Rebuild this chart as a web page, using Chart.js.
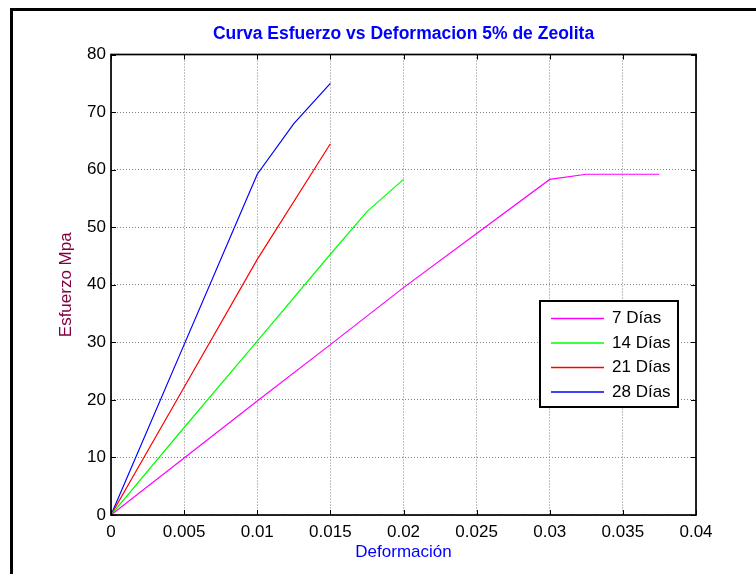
<!DOCTYPE html>
<html>
<head>
<meta charset="utf-8">
<script src="https://cdn.jsdelivr.net/npm/chart.js@4/dist/chart.umd.min.js"></script>
<style>
  html, body { margin: 0; padding: 0; background: #fff; }
  #wrap { width: 756px; height: 574px; position: relative; }
</style>
</head>
<body>
<div id="wrap"><canvas id="curva"></canvas></div>
<script>
// Curvas esfuerzo-deformación por edad de curado
const dias7X = [0, 0.005, 0.01, 0.015, 0.02, 0.025, 0.03, 0.0325, 0.0375];
const dias7Y = [0, 9.9, 19.8, 29.6, 39.5, 48.9, 58.3, 59.2, 59.2];

const dias14X = [0, 0.005, 0.01, 0.015, 0.0175, 0.02];
const dias14Y = [0, 15.2, 30.2, 45.3, 52.7, 58.3];

const dias21X = [0, 0.005, 0.01, 0.015];
const dias21Y = [0, 22.2, 44.4, 64.5];

const dias28X = [0, 0.005, 0.01, 0.0125, 0.015];
const dias28Y = [0, 29.6, 59.2, 68.0, 75.0];

const nombres = ['7 Días', '14 Días', '21 Días', '28 Días'];
const colores = ['#ff00ff', '#00ff00', '#ff0000', '#0000ff'];

const xTicks = [0, 0.005, 0.01, 0.015, 0.02, 0.025, 0.03, 0.035, 0.04];
const xTickLabels = ['0', '0.005', '0.01', '0.015', '0.02', '0.025', '0.03', '0.035', '0.04'];
const yTicks = [0, 10, 20, 30, 40, 50, 60, 70, 80];

const FUENTE = 'Arial, "Liberation Sans", sans-serif';

function puntos(xs, ys) {
    return xs.map((x, i) => ({ x: x, y: ys[i] }));
}

const series = [
    puntos(dias7X, dias7Y),
    puntos(dias14X, dias14Y),
    puntos(dias21X, dias21Y),
    puntos(dias28X, dias28Y)
];

// marco exterior, caja de ejes con marcas hacia dentro y leyenda
const marcoPlugin = {
    id: 'marco',
    beforeDraw(chart) {
        const ctx = chart.ctx;
        ctx.save();
        ctx.fillStyle = '#fff';
        ctx.fillRect(0, 0, chart.width, chart.height);
        ctx.fillStyle = '#000';
        ctx.fillRect(10, 8, chart.width - 10, 3);
        ctx.fillRect(10, 8, 3, chart.height - 8);
        ctx.restore();
    },
    afterDatasetsDraw(chart) {
        const ctx = chart.ctx;
        const a = chart.chartArea;
        const sx = chart.scales.x;
        const sy = chart.scales.y;
        ctx.save();
        ctx.strokeStyle = '#000';
        ctx.lineWidth = 1;
        ctx.beginPath();
        sx.ticks.forEach(t => {
            const px = Math.round(sx.getPixelForValue(t.value)) + 0.5;
            ctx.moveTo(px, a.bottom); ctx.lineTo(px, a.bottom - 5);
            ctx.moveTo(px, a.top); ctx.lineTo(px, a.top + 5);
        });
        sy.ticks.forEach(t => {
            const py = Math.round(sy.getPixelForValue(t.value)) + 0.5;
            ctx.moveTo(a.left, py); ctx.lineTo(a.left + 5, py);
            ctx.moveTo(a.right, py); ctx.lineTo(a.right - 5, py);
        });
        ctx.stroke();
        ctx.lineWidth = 1.7;
        ctx.strokeRect(a.left, a.top, a.right - a.left, a.bottom - a.top);

        // leyenda
        const lx = 540, ly = 301, lw = 138, lh = 106;
        ctx.fillStyle = '#fff';
        ctx.fillRect(lx, ly, lw, lh);
        ctx.lineWidth = 2;
        ctx.strokeStyle = '#000';
        ctx.strokeRect(lx, ly, lw, lh);
        ctx.font = '17px ' + FUENTE;
        ctx.textBaseline = 'middle';
        ctx.textAlign = 'left';
        chart.data.datasets.forEach((ds, i) => {
            const y = ly + 17.5 + i * 24.5;
            ctx.strokeStyle = ds.borderColor;
            ctx.lineWidth = 1.5;
            ctx.beginPath();
            ctx.moveTo(551, y);
            ctx.lineTo(604, y);
            ctx.stroke();
            ctx.fillStyle = '#000';
            ctx.fillText(ds.label, 612, y);
        });
        ctx.restore();
    }
};

const ctx = document.getElementById('curva').getContext('2d');
new Chart(ctx, {
    type: 'scatter',
    data: {
        datasets: series.map((d, i) => ({
            label: nombres[i],
            data: d,
            showLine: true,
            borderColor: colores[i],
            backgroundColor: colores[i],
            borderWidth: 1.2,
            pointRadius: 0,
            tension: 0
        }))
    },
    options: {
        responsive: true,
        maintainAspectRatio: false,
        animation: false,
        layout: { padding: { left: 48, right: 60, top: 0, bottom: 0 } },
        plugins: {
            legend: { display: false },
            tooltip: { enabled: false },
            title: {
                display: true,
                fullSize: false,
                text: 'Curva Esfuerzo vs Deformacion 5% de Zeolita',
                color: '#0000ff',
                font: { family: FUENTE, size: 17.5, weight: 'bold' },
                padding: { top: 24, bottom: 9.5 }
            }
        },
        scales: {
            x: {
                type: 'linear',
                min: 0,
                max: 0.04,
                afterBuildTicks: s => { s.ticks = xTicks.map(v => ({ value: v })); },
                afterFit: s => { s.height = 59; },
                ticks: {
                    color: '#000',
                    padding: 7,
                    maxRotation: 0,
                    font: { family: FUENTE, size: 17 },
                    callback: (v, i) => xTickLabels[i]
                },
                grid: {
                    color: '#808080',
                    drawTicks: false
                },
                border: { display: false, dash: [1, 2] },
                title: {
                    display: true,
                    text: 'Deformación',
                    color: '#0000ff',
                    font: { family: FUENTE, size: 17 },
                    padding: { top: 0, bottom: 11 }
                }
            },
            y: {
                type: 'linear',
                min: 0,
                max: 80,
                afterBuildTicks: s => { s.ticks = yTicks.map(v => ({ value: v })); },
                afterFit: s => { s.width = 63; },
                ticks: {
                    color: '#000',
                    padding: 5,
                    font: { family: FUENTE, size: 17 }
                },
                grid: {
                    color: '#808080',
                    drawTicks: false
                },
                border: { display: false, dash: [1, 2] },
                title: {
                    display: true,
                    text: 'Esfuerzo Mpa',
                    color: '#800040',
                    font: { family: FUENTE, size: 17 },
                    padding: { top: 8, bottom: 0 }
                }
            }
        }
    },
    plugins: [marcoPlugin]
});
</script>
</body>
</html>
